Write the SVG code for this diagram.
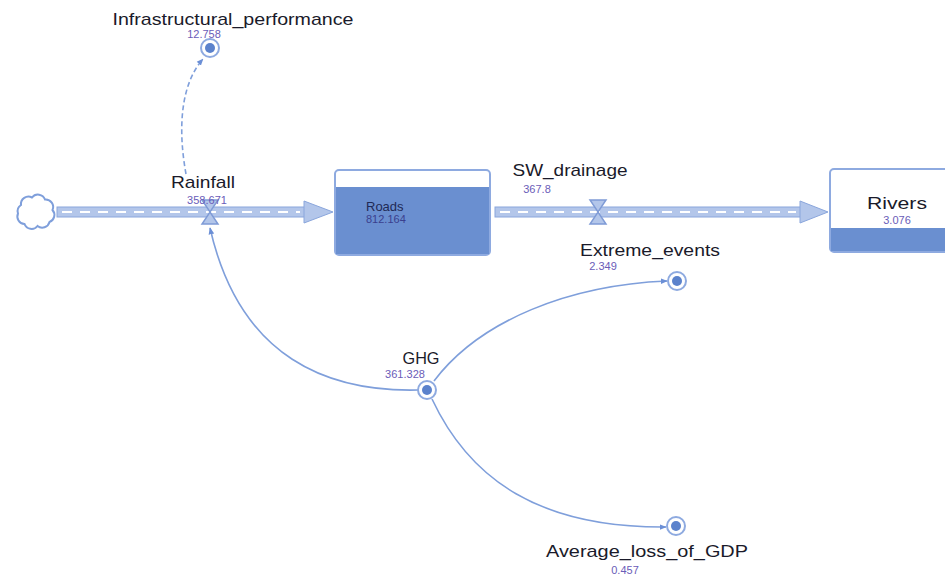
<svg xmlns="http://www.w3.org/2000/svg" width="945" height="579" viewBox="0 0 945 579">
<defs>
<style>
.lbl{font-family:"Liberation Sans",Arial,sans-serif;font-size:17px;fill:#1a1a2a}
.val{font-family:"Liberation Sans",Arial,sans-serif;font-size:11px;fill:#6a5cb8}
.pipe{fill:#b3c6ea;stroke:#8aa6dc;stroke-width:1}
.dash{stroke:#ffffff;stroke-width:2;stroke-dasharray:10 8;fill:none}
.valve{fill:#b3c6ea;stroke:#7f9bd6;stroke-width:1.5}
.conn{fill:none;stroke:#7f9fdb;stroke-width:1.6}
.ring{fill:#ffffff;stroke:#8eaae0;stroke-width:2}
.dot{fill:#5b82cc}
.stock{fill:#ffffff;stroke:#8eaae0;stroke-width:2}
.level{fill:#6a8fd0}
</style>
<marker id="ah" viewBox="0 0 10 10" refX="9" refY="5" markerWidth="7" markerHeight="7" orient="auto-start-reverse" markerUnits="userSpaceOnUse">
<path d="M0,1 L10,5 L0,9 z" fill="#6b8fd6"/>
</marker>
</defs>

<g id="connectors">
<path class="conn" stroke-dasharray="5 3" d="M186,174 C178,130 180,85 203,59" marker-end="url(#ah)"/>
<path class="conn" d="M418,390 C330,392 240,360 210,228" marker-end="url(#ah)"/>
<path class="conn" d="M434,381 C480,320 570,285 667,281" marker-end="url(#ah)"/>
<path class="conn" d="M432,399 C470,480 540,528 666,527" marker-end="url(#ah)"/>
</g>

<g id="cloud">
<path d="M21,205 a7.5,7.5 0 0 1 11,-7.5 a7.5,7.5 0 0 1 13,2 a7.5,7.5 0 0 1 7.5,10.5 a7.5,7.5 0 0 1 -3,12 a7.5,7.5 0 0 1 -12,4 a7.5,7.5 0 0 1 -13,-2 a7.5,7.5 0 0 1 -6.5,-10.5 a7.5,7.5 0 0 1 3,-8.5 z" fill="#ffffff" stroke="#7f9fdb" stroke-width="2"/>
</g>

<g id="flow_rainfall">
<rect class="pipe" x="57" y="207" width="250" height="10"/>
<line class="dash" x1="62" y1="212" x2="300" y2="212"/>
<path d="M304,201 L333,212 L304,223 z" fill="#b3c6ea" stroke="#8aa6dc" stroke-width="1"/>
<path class="valve" d="M202,200 L218,200 L210,212 z M202,224 L218,224 L210,212 z"/>
<text class="lbl" x="203" y="188" text-anchor="middle" textLength="64" lengthAdjust="spacingAndGlyphs">Rainfall</text>
<text class="val" x="207" y="204" text-anchor="middle">358.671</text>
</g>

<g id="Roads">
<rect class="stock" x="335" y="170" width="155" height="85" rx="4"/>
<rect class="level" x="336" y="187" width="153" height="67"/>
<text x="366" y="211" font-family="Liberation Sans,Arial,sans-serif" font-size="13" fill="#1f2a55">Roads</text>
<text x="366" y="223" font-family="Liberation Sans,Arial,sans-serif" font-size="11" fill="#3a3f8e">812.164</text>
</g>

<g id="flow_sw_drainage">
<rect class="pipe" x="495" y="207" width="307" height="10"/>
<line class="dash" x1="500" y1="212" x2="796" y2="212"/>
<path d="M800,201 L828,212 L800,223 z" fill="#b3c6ea" stroke="#8aa6dc" stroke-width="1"/>
<path class="valve" d="M590,200 L606,200 L598,212 z M590,224 L606,224 L598,212 z"/>
<text class="lbl" x="570" y="176" text-anchor="middle" textLength="115" lengthAdjust="spacingAndGlyphs">SW_drainage</text>
<text class="val" x="537" y="193" text-anchor="middle">367.8</text>
</g>

<g id="Rivers">
<rect class="stock" x="830" y="169" width="130" height="83" rx="4"/>
<rect class="level" x="831" y="228" width="114" height="23"/>
<text class="lbl" x="897" y="209" text-anchor="middle" textLength="60" lengthAdjust="spacingAndGlyphs">Rivers</text>
<text class="val" x="897" y="224" text-anchor="middle">3.076</text>
</g>

<g id="Infrastructural_performance">
<circle class="ring" cx="210" cy="48" r="9"/>
<circle class="dot" cx="210" cy="48" r="5"/>
<text class="lbl" x="233" y="25" text-anchor="middle" textLength="241" lengthAdjust="spacingAndGlyphs">Infrastructural_performance</text>
<text class="val" x="204" y="38" text-anchor="middle">12.758</text>
</g>

<g id="Extreme_events">
<circle class="ring" cx="677" cy="281" r="9"/>
<circle class="dot" cx="677" cy="281" r="5"/>
<text class="lbl" x="650" y="256" text-anchor="middle" textLength="140" lengthAdjust="spacingAndGlyphs">Extreme_events</text>
<text class="val" x="603" y="270" text-anchor="middle">2.349</text>
</g>

<g id="GHG">
<circle class="ring" cx="427" cy="390" r="9"/>
<circle class="dot" cx="427" cy="390" r="5"/>
<text class="lbl" x="421" y="364" text-anchor="middle" textLength="37" lengthAdjust="spacingAndGlyphs">GHG</text>
<text class="val" x="405" y="378" text-anchor="middle">361.328</text>
</g>

<g id="Average_loss_of_GDP">
<circle class="ring" cx="676" cy="526" r="9"/>
<circle class="dot" cx="676" cy="526" r="5"/>
<text class="lbl" x="647" y="557" text-anchor="middle" textLength="202" lengthAdjust="spacingAndGlyphs">Average_loss_of_GDP</text>
<text class="val" x="625" y="574" text-anchor="middle">0.457</text>
</g>
</svg>
